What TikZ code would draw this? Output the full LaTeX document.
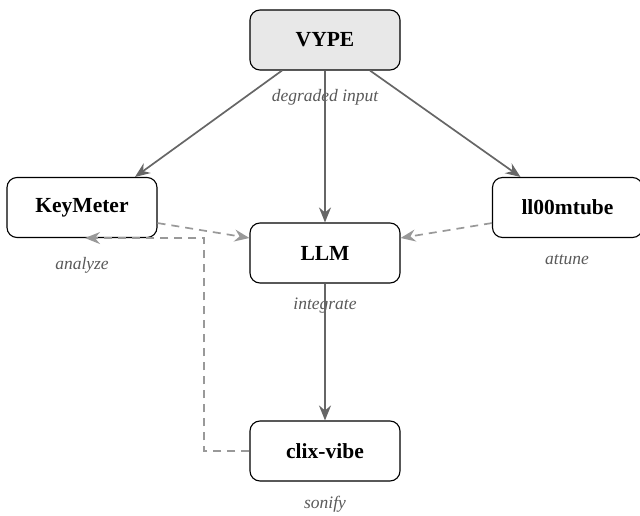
\documentclass[tikz,border=0pt]{standalone}
\usepackage{fontspec}
\setmainfont{Liberation Serif}
\usetikzlibrary{arrows.meta}
\begin{document}
\begin{tikzpicture}[x=1pt,y=-1pt,
  box/.style={draw=black, line width=1.1pt, rounded corners=10pt, minimum width=150pt, minimum height=60pt, fill=white, font=\fontsize{21.5}{24}\selectfont\bfseries, inner sep=0pt},
  lab/.style={font=\fontsize{17.5}{20}\selectfont\itshape, text=black!65, inner sep=0pt},
  solidarrow/.style={draw=black!60, line width=1.7pt, -{Stealth[length=15pt,width=12pt,inset=5pt]}},
  dasharrow/.style={draw=black!40, line width=1.7pt, dash pattern=on 8pt off 6pt, -{Stealth[length=15pt,width=12pt,inset=5pt]}}
]
\useasboundingbox (0,0) rectangle (640,516);
\node[box, fill=black!9] (vype) at (325,40) {VYPE};
\node[box] (key) at (82,207.5) {KeyMeter};
\node[box] (llm) at (325,253) {LLM};
\node[box] (tube) at (567.5,207.5) {ll00mtube};
\node[box] (clix) at (325,451) {clix-vibe};
\node[lab] (l1) at (325,97) {degraded input};
\node[lab] (l2) at (82,265) {analyze};
\node[lab] (l3) at (567,260) {attune};
\node[lab] (l4) at (325,306) {integrate};
\node[lab] (l5) at (325,504) {sonify};
\coordinate (c1) at (204,451);
\draw[solidarrow] ([xshift=-43pt]vype.south) -- ([xshift=53pt]key.north);
\draw[solidarrow] (vype.south) -- (llm.north);
\draw[solidarrow] ([xshift=45pt]vype.south) -- ([xshift=-47pt]tube.north);
\draw[solidarrow] (llm.south) -- (clix.north);
\draw[dasharrow] ([yshift=15pt]key.south east) -- ([yshift=15pt]llm.west);
\draw[dasharrow] ([yshift=15pt]tube.south west) -- ([yshift=15pt]llm.east);
\draw[dasharrow] (clix.west) -- (c1) |- ([xshift=3pt]key.south);
\end{tikzpicture}
\end{document}
